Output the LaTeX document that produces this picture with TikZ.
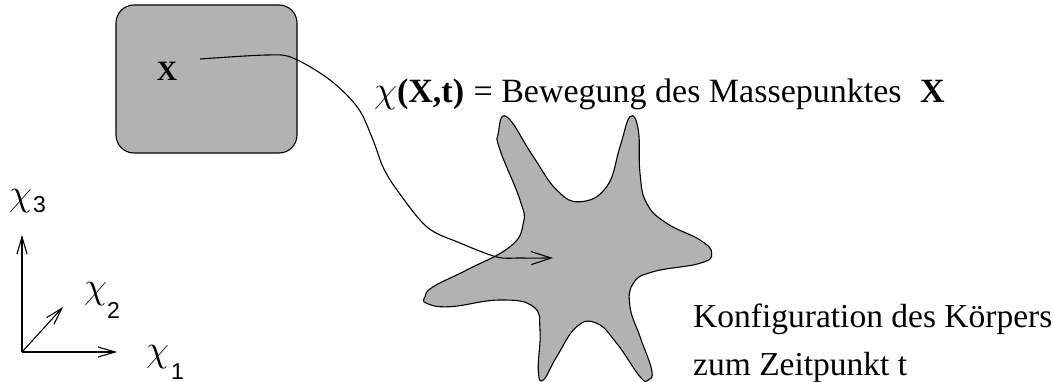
\documentclass[tikz,border=0pt]{standalone}
\usepackage{graphicx}
\usepackage{fontspec}
\setmainfont{Liberation Serif}
\setsansfont{Liberation Sans}
\usetikzlibrary{arrows.meta}
\definecolor{shade}{gray}{0.7}
\newcommand{\chisym}{{\fontsize{24.88}{30}\selectfont\scalebox{1.5}{$\chi$}}}
\begin{document}
\begin{tikzpicture}[x=1pt,y=-1pt,
  outline/.style={draw=black, line width=1.1pt, fill=shade},
  conn/.style={line width=1.1pt, -{Straight Barb[length=20pt,width=13pt,line width=1.1pt]}},
  axis/.style={line width=1.1pt, -{Straight Barb[length=17pt,width=10pt,line width=1.1pt]}},
  lbl/.style={inner sep=0pt, anchor=base west, font=\fontsize{33.5}{40}\selectfont},
  sub/.style={inner sep=0pt, anchor=base west, font=\fontsize{23}{28}\sffamily},
]
\useasboundingbox (0,0) rectangle (1053,382);

% reference configuration
\node[outline, rounded corners=18pt, minimum width=181pt, minimum height=148pt, inner sep=0pt] (box) at (206.5,79) {};
\node[inner sep=0pt, font=\fontsize{28}{32}\selectfont\bfseries] (X) at (167,71) {X};

% current configuration (star)
\path[outline] plot[smooth cycle, tension=0.75] coordinates {
 (506.7,116.7) (533.3,156.7) (556.7,190) (580,201.7) (606.7,186.7) (620,146.7)
 (630,116.7) (638.3,130) (640,173.3) (646.7,203.3) (666.7,223.3) (700,240)
 (711.7,253.3) (700,263.3) (653.3,271.7) (633.3,283.3) (630,306.7) (640,336.7)
 (651.7,370) (648.3,380) (640,376.7) (616.7,343.3) (596.7,323.3) (576.7,326.7)
 (556.7,356.7) (543.3,380) (538.3,370) (540,330) (533.3,306.7) (500,300)
 (450,306.7) (426.7,303.3) (425,296.7) (433.3,286.7) (466.7,270) (510,246.7)
 (523.3,223.3) (520,200) (500,150) (498.3,133.3)};

% motion curve
\coordinate (xs) at (200,59);
\coordinate (xe) at (553,258);
\draw[conn] plot[smooth, tension=0.55] coordinates {(xs) (267,55) (293,58) (330,80) (358,108) (373,140) (383,167) (397,190) (427,227) (460,243) (497,257) (520,258) (xe)};

% labels
\node[lbl, font=\fontsize{34}{40}\selectfont] (motion) at (374,103) {\chisym\textbf{(X,t)}\hspace{1pt} = Bewegung des Massepunktes\hspace{10pt} \textbf{X}};
\node[lbl] (conf1) at (693,327) {Konfiguration des Körpers};
\node[lbl] (conf2) at (693,375) {zum Zeitpunkt t};

% axes
\coordinate (o) at (22,352);
\coordinate (e3) at (22,235);
\coordinate (e1) at (117,352);
\coordinate (e2) at (63,307);
\draw[axis] (o) -- (e3);
\draw[axis] (o) -- (e1);
\draw[axis] (o) -- (e2);

\node[lbl] (chi3) at (9,206) {\chisym};
\node[sub] (s3) at (33,213) {3};
\node[lbl] (chi2) at (84,299) {\chisym};
\node[sub] (s2) at (107,319) {2};
\node[lbl] (chi1) at (146,361) {\chisym};
\node[sub] (s1) at (171,379) {1};
\end{tikzpicture}
\end{document}
